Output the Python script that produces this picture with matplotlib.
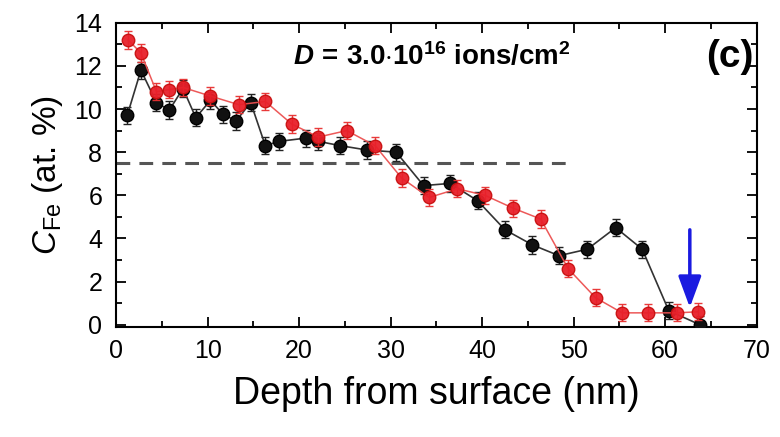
import matplotlib
matplotlib.use("Agg")
import matplotlib.pyplot as plt
from matplotlib.ticker import MultipleLocator

plt.rcParams['font.family'] = ['Liberation Sans', 'DejaVu Sans']
plt.rcParams['mathtext.fontset'] = 'custom'
plt.rcParams['mathtext.rm'] = 'Liberation Sans'
plt.rcParams['mathtext.it'] = 'Liberation Sans:italic'
plt.rcParams['mathtext.bf'] = 'Liberation Sans:bold'
plt.rcParams['mathtext.bfit'] = 'Liberation Sans:bold:italic'

# Black series
black_x = [1.2, 2.7, 4.4, 5.8, 7.3, 8.7, 10.3, 11.7, 13.1, 14.7, 16.3, 17.8, 20.7, 22.1,
           24.5, 27.4, 30.6, 33.6, 36.5, 39.5, 42.5, 45.5, 48.4, 51.5, 54.6, 57.5, 60.4, 63.8]
black_y = [9.7, 11.8, 10.3, 9.95, 10.95, 9.6, 10.4, 9.75, 9.45, 10.3, 8.3, 8.5, 8.65, 8.5,
           8.3, 8.1, 8.0, 6.45, 6.55, 5.75, 4.4, 3.7, 3.2, 3.5, 4.5, 3.5, 0.65, 0.0]
black_err = [0.4] * len(black_x)

# Red series
red_x = [1.3, 2.7, 4.4, 5.8, 7.3, 10.3, 13.4, 16.3, 19.2, 22.1, 25.2, 28.3, 31.2, 34.2,
         37.3, 40.3, 43.4, 46.4, 49.4, 52.4, 55.3, 58.1, 61.3, 63.6]
red_y = [13.2, 12.6, 10.8, 10.9, 11.0, 10.6, 10.2, 10.35, 9.3, 8.7, 9.0, 8.3, 6.8, 5.9,
         6.3, 6.0, 5.4, 4.9, 2.6, 1.25, 0.55, 0.55, 0.55, 0.6]
red_err = [0.4] * len(red_x)

dash_level = 7.5
dash_x = [0, 50]
arrow_x = 62.7
arrow_from = 4.4
arrow_to = 0.8

fig = plt.figure(figsize=(7.8, 4.37), dpi=100)
ax = fig.add_axes([0.149, 0.252, 0.821, 0.696])

ax.plot(dash_x, [dash_level, dash_level], color='#555555', lw=2.2,
        dashes=(4.5, 3), zorder=1)

ax.errorbar(black_x, black_y, yerr=black_err, color='#333333', lw=1.2,
            ecolor='#222222', elinewidth=1.0, capsize=3, capthick=1.0,
            marker='o', ms=9, mfc='#111111', mec='#000000', zorder=3)
ax.errorbar(red_x, red_y, yerr=red_err, color='#ec5050', lw=1.1,
            ecolor='#e83030', elinewidth=1.0, capsize=3, capthick=1.0,
            marker='o', ms=9, mfc='#e8202a', mec='#c81010', zorder=4, alpha=0.95)

ax.annotate('', xy=(arrow_x, arrow_to), xytext=(arrow_x, arrow_from),
            arrowprops=dict(arrowstyle='-|>,head_width=0.7,head_length=1.9',
                            color='#1a1ae0', lw=2.5, shrinkA=0, shrinkB=0),
            zorder=6)

ax.set_xlim(0, 70)
ax.set_ylim(-0.1, 14)
ax.xaxis.set_major_locator(MultipleLocator(10))
ax.xaxis.set_minor_locator(MultipleLocator(5))
ax.yaxis.set_major_locator(MultipleLocator(2))
ax.yaxis.set_minor_locator(MultipleLocator(1))
ax.tick_params(which='both', direction='in', top=True, right=True, labelsize=18, width=1.3)
ax.tick_params(which='major', length=7)
ax.tick_params(which='minor', length=4)
ax.tick_params(axis='x', which='major', pad=9)
ax.tick_params(axis='y', which='major', pad=10)
for s in ax.spines.values():
    s.set_linewidth(1.5)

ax.set_xlabel('Depth from surface (nm)', fontsize=27, labelpad=9)
ax.set_ylabel(r'$\mathit{C}_{\mathrm{Fe}}$ (at. %)', fontsize=24, labelpad=7)

ax.text(19.3, 12.45,
        r'$\mathbfit{D}\,\mathbf{=}\,\mathbf{3.0{\cdot}10^{16}}\ \mathbf{ions/cm^{2}}$',
        fontsize=20, ha='left', va='center')
ax.text(69.7, 12.4, '(c)', fontsize=28, fontweight='bold', ha='right', va='center')

fig.savefig('out.png', dpi=100)
